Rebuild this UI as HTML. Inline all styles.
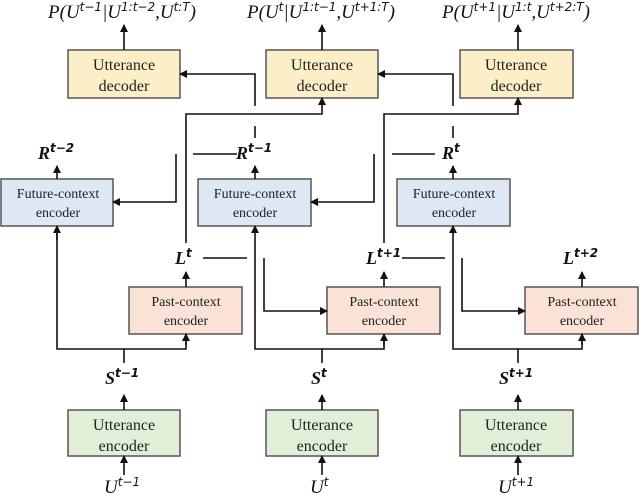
<!DOCTYPE html>
<html><head><meta charset="utf-8"><style>
html,body{margin:0;padding:0;background:#fff;}
svg{display:block;}
</style></head><body>
<svg width="640" height="495" viewBox="0 0 640 495" xmlns="http://www.w3.org/2000/svg">
<defs><marker id="a" markerWidth="8" markerHeight="8" refX="7" refY="4" orient="auto" markerUnits="userSpaceOnUse"><path d="M0,0 L8,4 L0,8 Z" fill="#111"/></marker></defs>
<g stroke="#555" stroke-width="1.5">
<rect x="68" y="50" width="112" height="48" fill="#fcefc7"/>
<rect x="266" y="50" width="112" height="48" fill="#fcefc7"/>
<rect x="460" y="50" width="113" height="48" fill="#fcefc7"/>
<rect x="1" y="179" width="112" height="47" fill="#dde8f4"/>
<rect x="198" y="179" width="113" height="47" fill="#dde8f4"/>
<rect x="397" y="179" width="113" height="47" fill="#dde8f4"/>
<rect x="129" y="287" width="113" height="47" fill="#fae3d6"/>
<rect x="327" y="287" width="113" height="47" fill="#fae3d6"/>
<rect x="525" y="287" width="113" height="47" fill="#fae3d6"/>
<rect x="68" y="410" width="112" height="46" fill="#e1efd9"/>
<rect x="266" y="410" width="112" height="46" fill="#e1efd9"/>
<rect x="460" y="410" width="113" height="46" fill="#e1efd9"/>
</g>
<g font-family="Liberation Serif, serif" font-size="16" fill="#222" text-anchor="middle">
<text x="124" y="70">Utterance</text><text x="124" y="91">decoder</text>
<text x="322" y="70">Utterance</text><text x="322" y="91">decoder</text>
<text x="516" y="70">Utterance</text><text x="516" y="91">decoder</text>
<text x="124" y="430">Utterance</text><text x="124" y="451">encoder</text>
<text x="322" y="430">Utterance</text><text x="322" y="451">encoder</text>
<text x="516" y="430">Utterance</text><text x="516" y="451">encoder</text>
</g>
<g font-family="Liberation Serif, serif" font-size="14" fill="#222" text-anchor="middle">
<text x="58" y="198">Future-context</text><text x="58" y="217">encoder</text>
<text x="255" y="198">Future-context</text><text x="255" y="217">encoder</text>
<text x="454" y="198">Future-context</text><text x="454" y="217">encoder</text>
<text x="186" y="306">Past-context</text><text x="186" y="325">encoder</text>
<text x="384" y="306">Past-context</text><text x="384" y="325">encoder</text>
<text x="582" y="306">Past-context</text><text x="582" y="325">encoder</text>
</g>
<g stroke="#111" stroke-width="1.6" fill="none">
<line x1="124" y1="50" x2="124" y2="25" marker-end="url(#a)"/>
<line x1="322" y1="50" x2="322" y2="25" marker-end="url(#a)"/>
<line x1="518" y1="50" x2="518" y2="25" marker-end="url(#a)"/>
<line x1="124" y1="475" x2="124" y2="456" marker-end="url(#a)"/>
<line x1="322" y1="475" x2="322" y2="456" marker-end="url(#a)"/>
<line x1="518" y1="475" x2="518" y2="456" marker-end="url(#a)"/>
<line x1="124" y1="410" x2="124" y2="395" marker-end="url(#a)"/>
<line x1="322" y1="410" x2="322" y2="395" marker-end="url(#a)"/>
<line x1="518" y1="410" x2="518" y2="395" marker-end="url(#a)"/>
<line x1="124" y1="363" x2="124" y2="349"/>
<polyline points="57,226 57,349 186,349 186,334"/>
<line x1="57" y1="240" x2="57" y2="226" marker-end="url(#a)"/>
<line x1="186" y1="345" x2="186" y2="334" marker-end="url(#a)"/>
<line x1="322" y1="363" x2="322" y2="349"/>
<polyline points="255,240 255,349 384,349 384,338"/>
<line x1="255" y1="240" x2="255" y2="226" marker-end="url(#a)"/>
<line x1="384" y1="345" x2="384" y2="334" marker-end="url(#a)"/>
<line x1="518" y1="363" x2="518" y2="349"/>
<polyline points="453,240 453,349 582,349 582,338"/>
<line x1="453" y1="240" x2="453" y2="226" marker-end="url(#a)"/>
<line x1="582" y1="345" x2="582" y2="334" marker-end="url(#a)"/>
<line x1="186" y1="287" x2="186" y2="272" marker-end="url(#a)"/>
<line x1="384" y1="287" x2="384" y2="272" marker-end="url(#a)"/>
<line x1="582" y1="287" x2="582" y2="272" marker-end="url(#a)"/>
<line x1="57" y1="179" x2="57" y2="166" marker-end="url(#a)"/>
<line x1="255" y1="179" x2="255" y2="166" marker-end="url(#a)"/>
<line x1="453" y1="179" x2="453" y2="166" marker-end="url(#a)"/>
<polyline points="186,243 186,114 322,114 322,98" marker-end="url(#a)"/>
<polyline points="384,243 384,114 518,114 518,98" marker-end="url(#a)"/>
<polyline points="255,106 255,74 180,74" marker-end="url(#a)"/>
<line x1="255" y1="126" x2="255" y2="138"/>
<polyline points="453,106 453,74 378,74" marker-end="url(#a)"/>
<line x1="453" y1="126" x2="453" y2="138"/>
<line x1="193" y1="154" x2="237" y2="154"/>
<polyline points="176,154 176,202 113,202" marker-end="url(#a)"/>
<line x1="392" y1="154" x2="435" y2="154"/>
<polyline points="374,154 374,202 311,202" marker-end="url(#a)"/>
<line x1="203" y1="258" x2="247" y2="258"/>
<polyline points="264,258 264,311 327,311" marker-end="url(#a)"/>
<line x1="402" y1="258" x2="445" y2="258"/>
<polyline points="462,258 462,311 525,311" marker-end="url(#a)"/>
</g>
<g font-family="Liberation Serif, serif" font-style="italic" font-size="19" fill="#111">
<text x="122" y="18" text-anchor="middle">P(U<tspan font-family="DejaVu Sans, sans-serif" font-size="12" dy="-7">t−1</tspan><tspan dy="7">|U</tspan><tspan font-family="DejaVu Sans, sans-serif" font-size="12" dy="-7">1:t−2</tspan><tspan dy="7">,U</tspan><tspan font-family="DejaVu Sans, sans-serif" font-size="12" dy="-7">t:T</tspan><tspan dy="7">)</tspan></text>
<text x="321" y="18" text-anchor="middle">P(U<tspan font-family="DejaVu Sans, sans-serif" font-size="12" dy="-7">t</tspan><tspan dy="7">|U</tspan><tspan font-family="DejaVu Sans, sans-serif" font-size="12" dy="-7">1:t−1</tspan><tspan dy="7">,U</tspan><tspan font-family="DejaVu Sans, sans-serif" font-size="12" dy="-7">t+1:T</tspan><tspan dy="7">)</tspan></text>
<text x="516" y="18" text-anchor="middle">P(U<tspan font-family="DejaVu Sans, sans-serif" font-size="12" dy="-7">t+1</tspan><tspan dy="7">|U</tspan><tspan font-family="DejaVu Sans, sans-serif" font-size="12" dy="-7">1:t</tspan><tspan dy="7">,U</tspan><tspan font-family="DejaVu Sans, sans-serif" font-size="12" dy="-7">t+2:T</tspan><tspan dy="7">)</tspan></text>
<text x="104" y="493">U<tspan font-family="DejaVu Sans, sans-serif" font-size="12" dy="-7">t−1</tspan></text>
<text x="310" y="493">U<tspan font-family="DejaVu Sans, sans-serif" font-size="12" dy="-7">t</tspan></text>
<text x="498" y="493">U<tspan font-family="DejaVu Sans, sans-serif" font-size="12" dy="-7">t+1</tspan></text>
</g>
<g font-family="Liberation Serif, serif" font-style="italic" font-weight="bold" font-size="18" fill="#111">
<text x="38" y="159">R<tspan font-family="DejaVu Sans, sans-serif" font-size="12" dy="-7">t−2</tspan></text>
<text x="236" y="159">R<tspan font-family="DejaVu Sans, sans-serif" font-size="12" dy="-7">t−1</tspan></text>
<text x="442" y="159">R<tspan font-family="DejaVu Sans, sans-serif" font-size="12" dy="-7">t</tspan></text>
<text x="175" y="264">L<tspan font-family="DejaVu Sans, sans-serif" font-size="12" dy="-7">t</tspan></text>
<text x="366" y="264">L<tspan font-family="DejaVu Sans, sans-serif" font-size="12" dy="-7">t+1</tspan></text>
<text x="563" y="264">L<tspan font-family="DejaVu Sans, sans-serif" font-size="12" dy="-7">t+2</tspan></text>
<text x="105" y="384">S<tspan font-family="DejaVu Sans, sans-serif" font-size="12" dy="-7">t−1</tspan></text>
<text x="311" y="384">S<tspan font-family="DejaVu Sans, sans-serif" font-size="12" dy="-7">t</tspan></text>
<text x="499" y="384">S<tspan font-family="DejaVu Sans, sans-serif" font-size="12" dy="-7">t+1</tspan></text>
</g>
</svg>
</body></html>
